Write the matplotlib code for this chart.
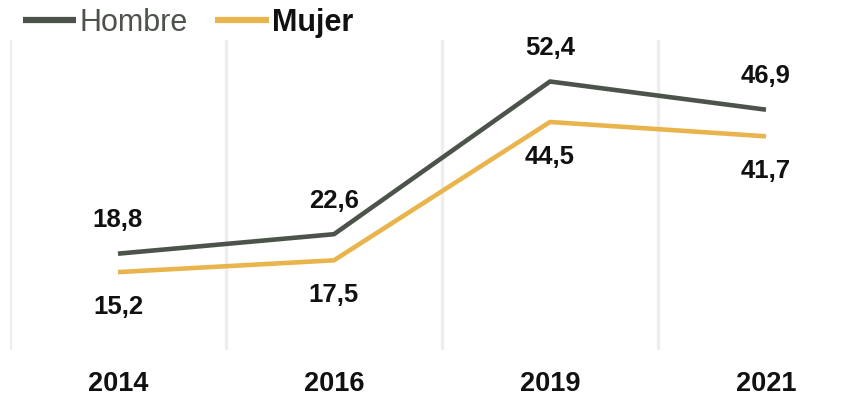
import matplotlib
matplotlib.use("Agg")
import matplotlib.pyplot as plt

# años y porcentajes por sexo
years = ["2014", "2016", "2019", "2021"]
hombre = [18.8, 22.6, 52.4, 46.9]
mujer = [15.2, 17.5, 44.5, 41.7]

plt.rcParams['font.family'] = ['Liberation Sans', 'DejaVu Sans']

fig = plt.figure(figsize=(8.51, 3.97), dpi=100)
ax = fig.add_axes([10 / 851, 47 / 397, 841 / 851, 310 / 397])

x = list(range(len(years)))
gris = "#4b534b"
oro = "#e9b44c"

ax.plot(x, hombre, color=gris, lw=3.3, label="Hombre", solid_capstyle="butt")
ax.plot(x, mujer, color=oro, lw=3.3, label="Mujer", solid_capstyle="butt")

def fmt(v):
    return f"{v:.1f}".replace(".", ",")

for i in x:
    ax.annotate(fmt(hombre[i]), (i, hombre[i]), xytext=(0, 24), textcoords="offset points",
                ha="center", va="center", fontsize=18.5, fontweight="bold", color="#111111")
    ax.annotate(fmt(mujer[i]), (i, mujer[i]), xytext=(0, -25), textcoords="offset points",
                ha="center", va="center", fontsize=18.5, fontweight="bold", color="#111111")

ax.set_xlim(-0.5, -0.5 + 841 / 216)
ax.set_ylim(0, 60.5)
ax.set_xticks(x)
ax.set_xticklabels(years, fontsize=19.5, fontweight="bold", color="#111111")
ax.tick_params(axis="x", length=0, pad=15)
ax.set_yticks([])
ax.set_xticks([-0.5, 0.5, 1.5, 2.5], minor=True)
ax.tick_params(axis="x", which="minor", length=0)
ax.grid(True, which="minor", axis="x", color="#eeeeee", lw=2.5)
ax.set_axisbelow(True)
for s in ax.spines.values():
    s.set_visible(False)

leg = fig.legend(loc="upper left", bbox_to_anchor=(23 / 851, 1 - 8 / 397), ncol=2, frameon=False,
                 fontsize=22, handlelength=1.75, handletextpad=0.1, columnspacing=0.9,
                 borderpad=0, borderaxespad=0)
t1, t2 = leg.get_texts()
t1.set_color(gris)
t2.set_fontweight("bold")
t2.set_color("#111111")
for h in leg.get_lines():
    h.set_linewidth(4.5)

fig.savefig("out.png", dpi=100)
